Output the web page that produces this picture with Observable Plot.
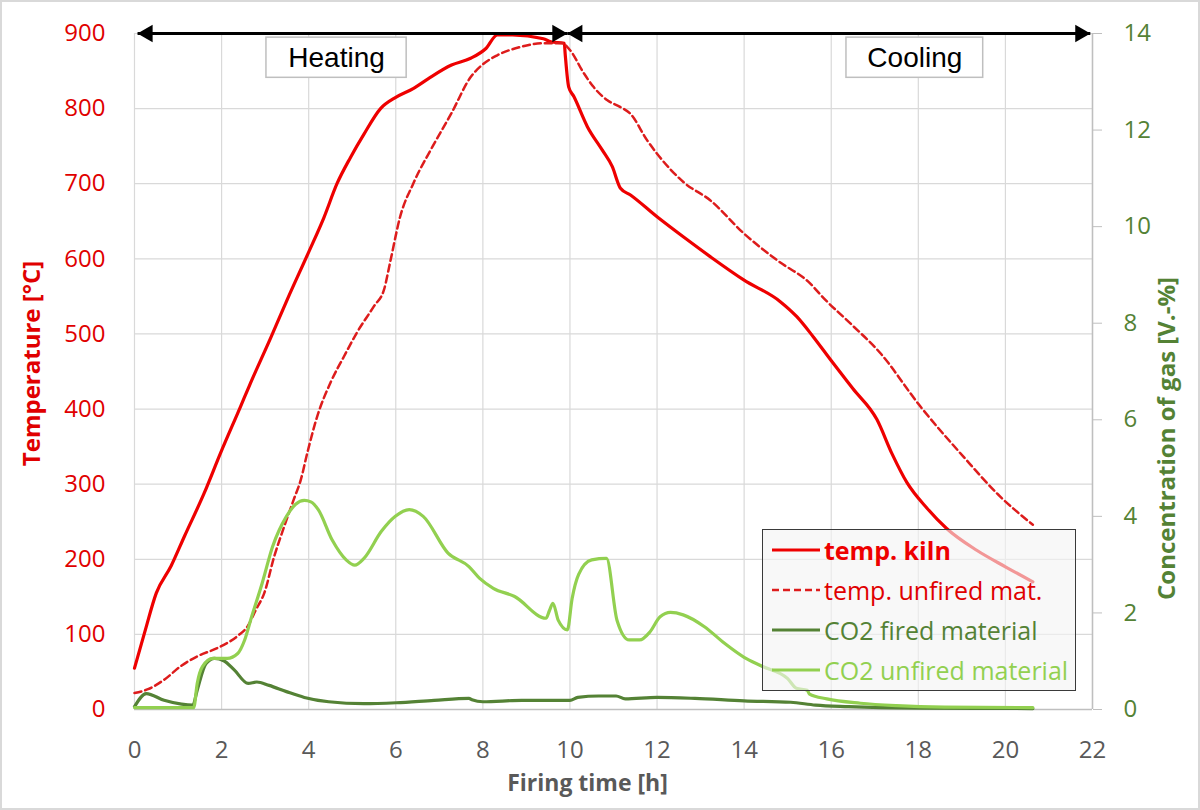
<!DOCTYPE html>
<html><head><meta charset="utf-8">
<script src="https://cdn.jsdelivr.net/npm/d3@7"></script>
<script src="https://cdn.jsdelivr.net/npm/@observablehq/plot@0.6"></script>
<style>
body{margin:0;background:#fff;}
#wrap{position:relative;width:1200px;height:810px;overflow:hidden;font-family:"Open Sans",sans-serif;background:#fff;}
#border{position:absolute;left:0;top:0;width:1200px;height:810px;box-sizing:border-box;border:2px solid #d9d9d9;pointer-events:none;}
#legend{position:absolute;left:762px;top:529px;width:314px;height:162px;box-sizing:border-box;border:1.5px solid #3a3a3a;background:rgba(244,244,244,0.62);}
.row{position:absolute;left:9px;height:40px;display:flex;align-items:center;font-size:25px;white-space:nowrap;}
.row svg{margin-right:4px;}
</style></head>
<body><div id="wrap"><div id="chart"></div><div id="legend"></div><div id="border"></div></div>
<script>
// ---- data ----
const kilnHours = [0,0.23,0.5,0.84,1.15,1.6,1.98,2.44,2.63,3.13,3.51,4.0,4.35,4.65,4.96,5.27,5.65,6.0,6.41,6.75,7.28,7.72,8.07,8.33,8.68,9.39,9.56,9.87,9.89,9.97,10.09,10.4,10.74,10.97,11.16,11.39,12.0,12.61,13.22,13.99,14.83,15.21,15.59,15.98,16.5,17.05,17.4,17.74,18.2,18.65,19.34,20.0,20.63];
const kilnTemp  = [55,102,155,191,231,288,342,404,430,495,546,609,655,700,735,766,800,815,827,840,858,867,880,898,898,893,889,887,873,829,816,776,745,723,694,685,656,629,603,572,543,523,496,466,427,386,340,302,268,241,212,190,170];

const unfiredHours = [0,0.31,0.69,1.07,1.45,1.91,2.37,2.6,2.79,2.98,3.21,3.44,3.66,3.82,3.97,4.2,4.5,4.81,5.11,5.5,5.73,5.88,6.1,6.4,6.84,7.28,7.72,7.98,8.33,8.86,9.39,9.82,10.0,10.32,10.54,10.86,11.16,11.39,11.77,12.0,12.61,13.22,13.99,14.76,15.52,15.82,16.44,17.12,18.04,19.03,19.87,20.63];
const unfiredTemp  = [22,27,40,58,71,82,98,111,133,155,204,244,280,306,342,391,435,470,502,537,559,598,656,700,749,794,842,858,871,882,887,887,878,847,829,811,802,793,758,740,702,678,634,598,567,548,514,475,404,337,284,246];

const co2FiredHours = [0,0.27,0.68,1.08,1.34,1.44,1.64,1.84,2.05,2.29,2.61,2.81,3.09,3.49,3.9,4.46,5.27,6.01,6.88,7.68,7.75,8.0,8.89,10.0,10.18,10.66,11.06,11.27,12.0,12.87,14.0,15.07,15.64,16.4,18.1,20.63];
const co2FiredGas   = [0.06,0.33,0.19,0.11,0.09,0.4,0.95,1.06,1.01,0.82,0.54,0.57,0.5,0.37,0.25,0.16,0.12,0.14,0.19,0.23,0.2,0.16,0.19,0.19,0.25,0.28,0.28,0.22,0.25,0.23,0.18,0.15,0.09,0.06,0.03,0.02];

const co2UnfiredHours = [0,1.36,1.44,1.56,1.8,2.13,2.37,2.53,2.69,2.93,3.17,3.49,3.7,3.9,4.05,4.22,4.54,4.86,5.06,5.27,5.67,5.99,6.31,6.63,7.2,7.68,7.92,8.24,8.73,9.45,9.53,9.61,9.73,9.94,10.05,10.2,10.5,10.84,11.08,11.36,11.6,11.84,12.07,12.31,12.6,13.08,13.55,14.0,14.4,15.0,15.2,15.45,15.5,15.9,16.67,17.5,18.6,20.63];
const co2UnfiredGas   = [0.04,0.04,0.54,0.89,1.06,1.06,1.16,1.44,1.92,2.61,3.37,4.0,4.25,4.33,4.3,4.14,3.51,3.1,2.99,3.13,3.69,4.0,4.14,4.0,3.24,2.96,2.72,2.51,2.34,1.89,2.05,2.2,1.85,1.65,2.3,2.8,3.1,3.13,1.85,1.44,1.44,1.61,1.92,2.01,1.96,1.72,1.37,1.08,0.9,0.64,0.44,0.4,0.32,0.22,0.13,0.08,0.05,0.04];

const xTicks = [0,2,4,6,8,10,12,14,16,18,20,22];
const tempTicks = [0,100,200,300,400,500,600,700,800,900];
const gasTicks = [0,2,4,6,8,10,12,14];
const gasMax = 14, tempMax = 900;

const phases = [
  {name: "Heating", start: 0.07, end: 9.94, boxFrom: 3.03, boxTo: 6.25},
  {name: "Cooling", start: 9.94, end: 21.95, boxFrom: 16.35, boxTo: 19.49}
];

const seriesNames  = ["temp. kiln", "temp. unfired mat.", "CO2 fired material", "CO2 unfired material"];
const seriesColors = ["#ee0000", "#dd1c1c", "#548235", "#92d050"];

// ---- build ----
const toTemp = g => g * tempMax / gasMax;
const zip = (hs, vs) => hs.map((h, i) => ({h, v: vs[i]}));
const kiln = zip(kilnHours, kilnTemp);
const unfired = zip(unfiredHours, unfiredTemp);
const co2Fired = zip(co2FiredHours, co2FiredGas);
const co2Unfired = zip(co2UnfiredHours, co2UnfiredGas);

const red = "#e00000", green = "#548235", gray = "#595959";
const tri = 6.5;

const chart = Plot.plot({
  width: 1200, height: 810,
  marginLeft: 134, marginRight: 108, marginTop: 33, marginBottom: 101,
  style: {fontFamily: "'Open Sans', sans-serif", background: "transparent"},
  x: {domain: [0, 22]},
  y: {domain: [0, tempMax]},
  marks: [
    Plot.gridX(xTicks, {stroke: "#d9d9d9", strokeOpacity: 1, strokeWidth: 1.2}),
    Plot.gridY(tempTicks, {stroke: "#d9d9d9", strokeOpacity: 1, strokeWidth: 1.2}),
    Plot.ruleX([22], {stroke: "#bfbfbf", strokeWidth: 1.5}),
    Plot.ruleY([0], {stroke: "#bfbfbf", strokeWidth: 1.5}),
    Plot.axisX(xTicks, {tickSize: 0, tickPadding: 31, fontSize: 24, color: gray, label: null}),
    Plot.axisY(tempTicks, {anchor: "left", tickSize: 0, tickPadding: 29, fontSize: 24, color: red, label: null}),
    Plot.axisY(gasTicks.map(toTemp), {anchor: "right", tickSize: 9, tickFormat: () => "", stroke: "#bfbfbf", label: null}),
    Plot.axisY(gasTicks.map(toTemp), {anchor: "right", tickSize: 0, tickPadding: 31, fontSize: 24, color: green, label: null,
      tickFormat: d => String(Math.round(d * gasMax / tempMax))}),
    // phase boxes
    Plot.rect(phases, {x1: "boxFrom", x2: "boxTo", y1: 841, y2: 894.5, fill: "white", stroke: "#bfbfbf", strokeWidth: 1.5}),
    Plot.text(phases, {x: d => (d.boxFrom + d.boxTo) / 2, y: 867.5, text: "name", fontSize: 28, fill: "black",
      fontFamily: "'Liberation Sans', Arial, sans-serif"}),
    // series
    Plot.line(kiln, {x: "h", y: "v", stroke: seriesColors[0], strokeWidth: 3.2, curve: "monotone-x"}),
    Plot.line(unfired, {x: "h", y: "v", stroke: seriesColors[1], strokeWidth: 2.5, strokeDasharray: "7,4", curve: "monotone-x"}),
    Plot.line(co2Fired, {x: "h", y: d => toTemp(d.v), stroke: seriesColors[2], strokeWidth: 3.2, curve: "monotone-x"}),
    Plot.line(co2Unfired, {x: "h", y: d => toTemp(d.v), stroke: seriesColors[3], strokeWidth: 3.2, curve: "monotone-x"}),
    // phase arrows
    Plot.link(phases, {x1: "start", x2: "end", y1: tempMax, y2: tempMax, stroke: "black", strokeWidth: 3}),
    Plot.dot(phases, {x: "start", y: tempMax, symbol: "triangle", r: tri, fill: "black", rotate: -90, dx: 10}),
    Plot.dot(phases, {x: "end", y: tempMax, symbol: "triangle", r: tri, fill: "black", rotate: 90, dx: -10}),
    // axis titles
    Plot.text(["Temperature [°C]"], {text: d => d, frameAnchor: "left", textAnchor: "middle", dx: -102, dy: -8, rotate: -90,
      fontSize: 24, fontWeight: "bold", fill: red}),
    Plot.text(["Concentration of gas [V.-%]"], {text: d => d, frameAnchor: "right", textAnchor: "middle", dx: 75, dy: 67, rotate: -90,
      fontSize: 24, fontWeight: "bold", fill: green}),
    Plot.text(["Firing time [h]"], {text: d => d, frameAnchor: "bottom", textAnchor: "middle", dx: -26, dy: 81,
      fontSize: 23, fontWeight: "bold", fill: gray})
  ]
});
document.getElementById("chart").appendChild(chart);

// ---- legend ----
const legend = document.getElementById("legend");
seriesNames.forEach((name, i) => {
  const row = document.createElement("div");
  row.className = "row";
  row.style.top = (i * 40) + "px";
  row.style.color = i === 1 ? red : seriesColors[i];
  if (i === 0) row.style.fontWeight = "bold";
  const dash = i === 1 ? ' stroke-dasharray="7,4"' : "";
  const sw = i === 1 ? 2.5 : 3.2;
  row.innerHTML = `<svg width="48" height="6"><line x1="0" y1="3" x2="48" y2="3" stroke="${seriesColors[i]}" stroke-width="${sw}"${dash}/></svg><span>${name}</span>`;
  legend.appendChild(row);
});
</script></body></html>
